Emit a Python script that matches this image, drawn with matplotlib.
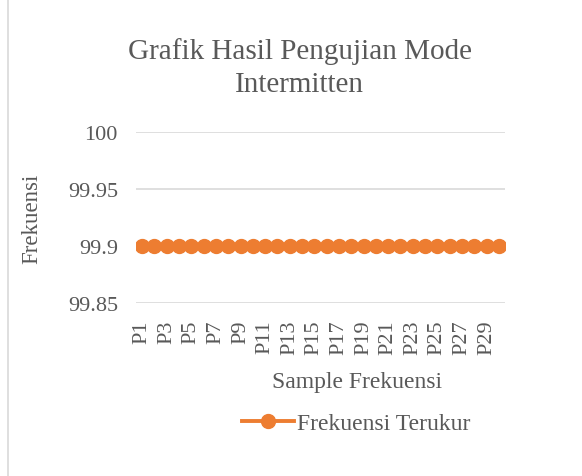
import matplotlib.pyplot as plt
from matplotlib.lines import Line2D

samples = ["P" + str(i) for i in range(1, 31)]
frekuensi = [99.9] * 30

ORANGE = "#ED7D31"
GRAY = "#595959"


def main():
    plt.rcParams['font.family'] = ['Liberation Serif', 'DejaVu Serif']
    fig = plt.figure(figsize=(5.82, 4.77), dpi=100)
    ax = fig.add_axes([0.2337, 0.3627, 0.634, 0.3585])

    x = list(range(len(samples)))
    ax.plot(x, frekuensi, color=ORANGE, lw=2.8, marker='o', ms=10,
            label='Frekuensi Terukur')

    ax.set_ylim(99.85, 100)
    ax.set_xlim(-0.5, len(samples) - 0.5)
    ax.set_yticks([99.85, 99.9, 99.95, 100])
    ax.set_yticklabels(['99.85', '99.9', '99.95', '100'])
    ax.set_xticks(x[::2])
    ax.set_xticklabels(samples[::2], rotation=90)
    ax.tick_params(axis='both', length=0, colors=GRAY, labelsize=16)
    ax.tick_params(axis='y', pad=13)
    ax.tick_params(axis='x', pad=12)
    ax.grid(axis='y', color='#D9D9D9', lw=1.2)
    ax.set_axisbelow(True)
    for s in ax.spines.values():
        s.set_visible(False)

    ax.set_xlabel('Sample Frekuensi', color=GRAY, fontsize=17)
    ax.set_ylabel('Frekuensi', color=GRAY, fontsize=16.5)
    ax.xaxis.set_label_coords(0.6, -0.4)
    ax.yaxis.set_label_coords(-0.255, 0.5)

    fig.text(0.515, 0.858, 'Grafik Hasil Pengujian Mode\nIntermitten',
             ha='center', va='center', color=GRAY, fontsize=21,
             linespacing=1.35)

    handle = Line2D([], [], color=ORANGE, lw=2.8, marker='o', ms=10)
    fig.legend([handle], ['Frekuensi Terukur'], loc='center',
               bbox_to_anchor=(0.612, 0.111), frameon=False, fontsize=17,
               labelcolor=GRAY, handlelength=2.2, handletextpad=0.15)

    fig.add_artist(Line2D([0.013, 0.013], [0, 1], color='#D9D9D9', lw=1.2))

    fig.savefig('out.png', dpi=100)


if __name__ == "__main__":
    main()
